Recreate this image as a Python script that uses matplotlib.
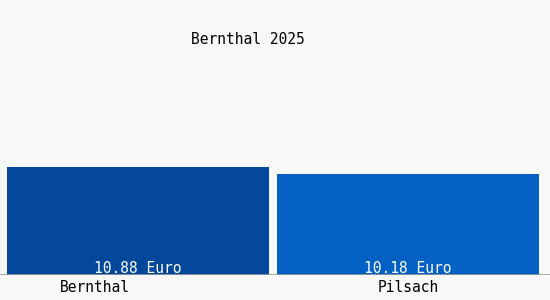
import matplotlib.pyplot as plt

towns = ["Bernthal", "Pilsach"]
values = [10.88, 10.18]
value_labels = ["10.88 Euro", "10.18 Euro"]
colors = ["#03489A", "#0461C3"]
title = "Bernthal 2025"

fig = plt.figure(figsize=(5.5, 3), dpi=100, facecolor="#f8f8f8")
ax = fig.add_axes([0, 25 / 300, 1, 275 / 300])
ax.set_facecolor("#f8f8f8")

x = list(range(len(towns)))
ax.bar(x, values, width=0.967, color=colors)
ax.axhline(0, color="#999999", lw=1.2)

for i, lab in enumerate(value_labels):
    ax.text(x[i], 0.65, lab, ha="center", va="center", color="white",
            family="DejaVu Sans Mono", fontsize=10.5)

# category labels sit under the bars, first one shifted left like the original
offsets = [-0.16, 0.0]
for i, t in enumerate(towns):
    ax.text(x[i] + offsets[i], -1.3, t, ha="center", va="center", color="black",
            family="DejaVu Sans Mono", fontsize=10.5, clip_on=False)

ax.set_xlim(-0.511, 1.526)
ax.set_ylim(0, 27.7)
ax.axis("off")

fig.text(247.5 / 550, 1 - 39 / 300, title, ha="center", va="center",
         family="DejaVu Sans Mono", fontsize=10.5)

fig.savefig("out.png", dpi=100, facecolor=fig.get_facecolor())
